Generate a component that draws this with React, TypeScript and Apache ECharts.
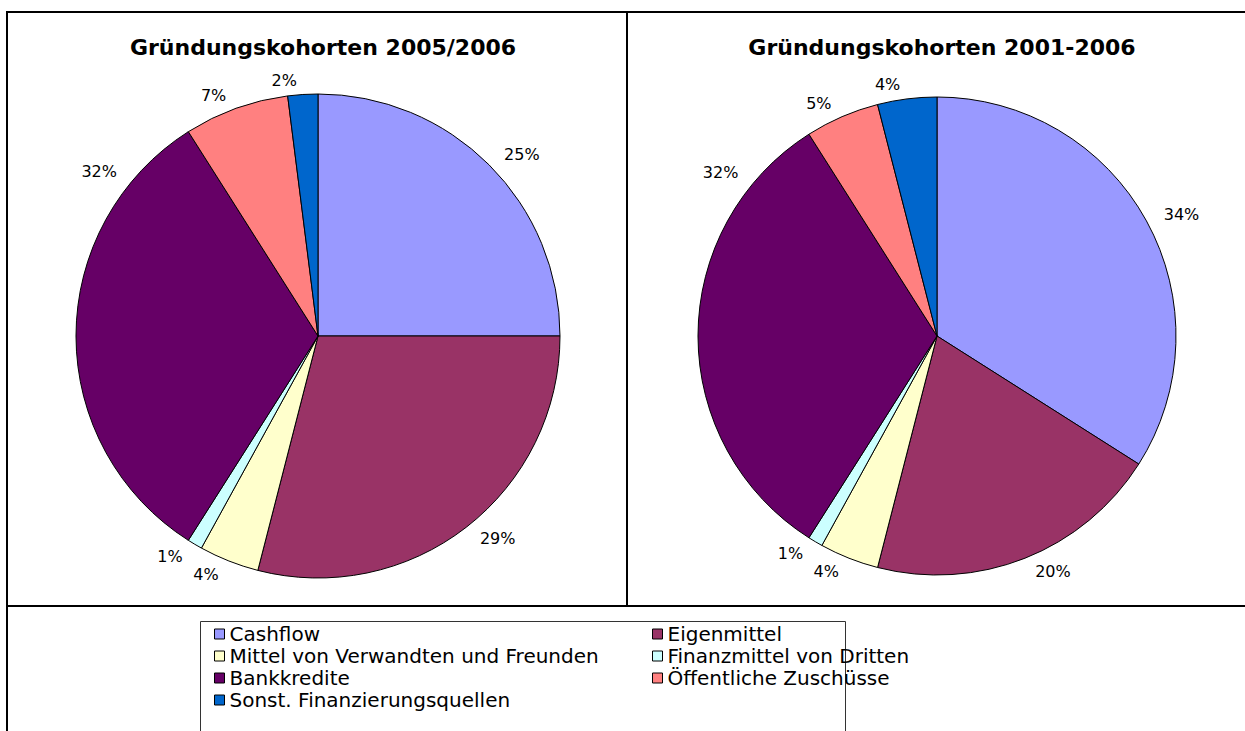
import React, { useEffect, useRef } from "react";
import * as echarts from "echarts";

const categories = [
  "Cashflow",
  "Eigenmittel",
  "Mittel von Verwandten und Freunden",
  "Finanzmittel von Dritten",
  "Bankkredite",
  "Öffentliche Zuschüsse",
  "Sonst. Finanzierungsquellen",
];
const colors = ["#9999FF", "#993366", "#FFFFCC", "#CCFFFF", "#660066", "#FF8080", "#0066CC"];
const values2005 = [25, 29, 4, 1, 32, 7, 2];
const values2001 = [34, 20, 4, 1, 32, 5, 4];
const titles = ["Gründungskohorten 2005/2006", "Gründungskohorten 2001-2006"];
const legendCol1 = [categories[0], categories[2], categories[4], categories[6]];
const legendCol2 = [categories[1], categories[3], categories[5]];

const FONT = "DejaVu Sans";

export default function App() {
  const ref = useRef<HTMLDivElement>(null);
  useEffect(() => {
    if (!ref.current) return;
    const chart = echarts.init(ref.current, undefined, { renderer: "svg" });
    const mkData = (vals: number[]) =>
      vals.map((v, i) => ({ name: categories[i], value: v, itemStyle: { color: colors[i] } }));
    // Excel "best fit" placed the large Bankkredite label towards the upper-left
    const bankLabel = (cx: number, cy: number, r: number) => (params: any) => {
      if (params.dataIndex !== 4) return {};
      const a = (307 * Math.PI) / 180;
      return {
        x: cx + Math.sin(a) * (r + 32),
        y: cy - Math.cos(a) * (r + 32),
        align: "center",
        verticalAlign: "middle",
      };
    };
    const pieBase = {
      type: "pie",
      startAngle: 90,
      clockwise: true,
      avoidLabelOverlap: false,
      itemStyle: { borderColor: "#000", borderWidth: 1 },
      label: {
        show: true,
        position: "outside",
        formatter: "{c}%",
        color: "#000",
        fontFamily: FONT,
        fontSize: 16,
      },
      labelLine: { show: false, length: 14, length2: 0 },
      emphasis: { disabled: true },
    };
    const legendBase = {
      orient: "vertical",
      icon: "rect",
      itemWidth: 10,
      itemHeight: 10,
      itemGap: 2,
      top: 624,
      selectedMode: false,
      itemStyle: { borderColor: "#000", borderWidth: 1 },
      textStyle: { fontFamily: FONT, fontSize: 20, color: "#000", lineHeight: 20 },
      padding: 0,
    };
    chart.setOption({
      animation: false,
      backgroundColor: "#fff",
      title: [
        {
          text: titles[0],
          left: 318,
          top: 31,
          textAlign: "center",
          textStyle: { fontFamily: FONT, fontSize: 22, fontWeight: "bold", color: "#000" },
        },
        {
          text: titles[1],
          left: 937,
          top: 31,
          textAlign: "center",
          textStyle: { fontFamily: FONT, fontSize: 22, fontWeight: "bold", color: "#000" },
        },
      ],
      legend: [
        { ...legendBase, left: 214, data: legendCol1 },
        { ...legendBase, left: 652, data: legendCol2 },
      ],
      graphic: [
        { type: "line", shape: { x1: 7, y1: 12, x2: 1245, y2: 12 }, style: { stroke: "#000", lineWidth: 2 } },
        { type: "line", shape: { x1: 7, y1: 11, x2: 7, y2: 731 }, style: { stroke: "#000", lineWidth: 2 } },
        { type: "line", shape: { x1: 627, y1: 11, x2: 627, y2: 606 }, style: { stroke: "#000", lineWidth: 2 } },
        { type: "line", shape: { x1: 7, y1: 606, x2: 1245, y2: 606 }, style: { stroke: "#000", lineWidth: 2 } },
        {
          type: "rect",
          shape: { x: 200.5, y: 621.5, width: 645, height: 200 },
          style: { fill: "none", stroke: "#333", lineWidth: 1 },
        },
      ],
      series: [
        {
          ...pieBase,
          name: titles[0],
          center: [318, 336],
          radius: 242,
          labelLayout: bankLabel(318, 336, 242),
          data: mkData(values2005),
        },
        {
          ...pieBase,
          name: titles[1],
          center: [937, 336],
          radius: 239,
          labelLayout: bankLabel(937, 336, 239),
          data: mkData(values2001),
        },
      ],
    });
    return () => chart.dispose();
  }, []);
  return (
    <div
      ref={ref}
      style={{ position: "fixed", left: 0, top: 0, width: 1245, height: 731, background: "#fff" }}
    />
  );
}
